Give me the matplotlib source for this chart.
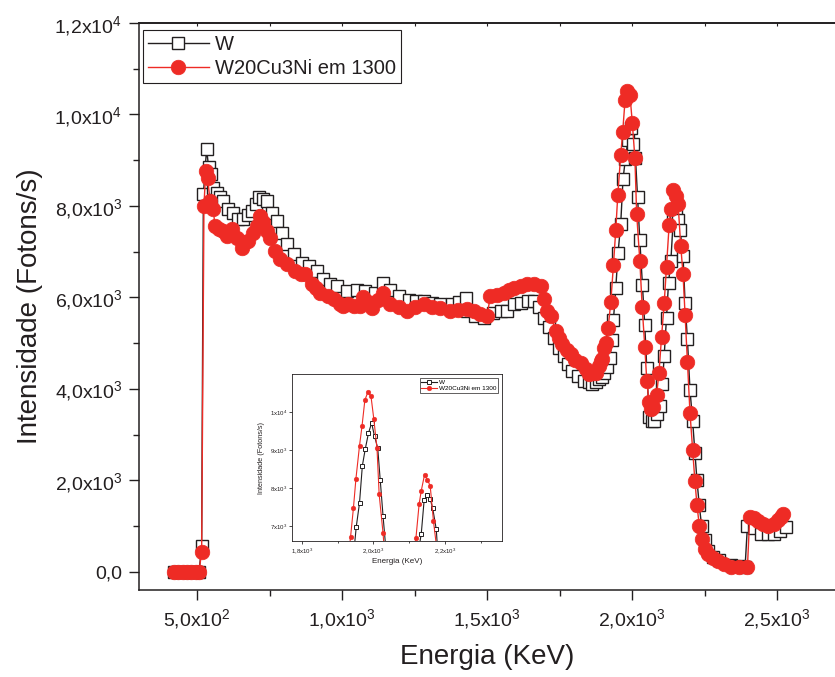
import matplotlib
matplotlib.use('Agg')
import matplotlib.pyplot as plt
from matplotlib.ticker import MultipleLocator

plt.rcParams['font.family'] = ['Liberation Sans', 'DejaVu Sans']
plt.rcParams['mathtext.fontset'] = 'custom'
plt.rcParams['mathtext.rm'] = 'Liberation Sans'
plt.rcParams['mathtext.it'] = 'Liberation Sans:italic'
plt.rcParams['mathtext.bf'] = 'Liberation Sans:bold'

# ---------------- data ----------------
w_label = 'W'
ni_label = 'W20Cu3Ni em 1300'

w_energy = [420, 435, 450, 465, 480, 495, 507, 516, 522, 533, 540, 548, 556, 568, 580,
            591, 608, 625, 643, 660, 675, 689, 703, 715, 728, 741, 758, 775, 793, 810,
            833, 862, 885, 914, 936, 960, 983, 1017, 1050, 1080, 1115, 1143, 1165, 1195,
            1230, 1255, 1282, 1310, 1339, 1380, 1405, 1426, 1432, 1460, 1489, 1520, 1547,
            1570, 1593, 1616, 1640, 1662, 1680, 1696, 1715, 1731, 1748, 1765, 1780, 1794,
            1815, 1834, 1850, 1863, 1875, 1885, 1895, 1905, 1915, 1924, 1930, 1936, 1944,
            1952, 1961, 1969, 1977, 1986, 1995, 2003, 2012, 2019, 2027, 2036, 2044, 2051,
            2059, 2068, 2076, 2087, 2097, 2105, 2111, 2119, 2126, 2134, 2142, 2151, 2159,
            2166, 2176, 2183, 2191, 2200, 2209, 2217, 2224, 2232, 2240, 2250, 2261, 2280,
            2300, 2340, 2370, 2390, 2398, 2420, 2445, 2470, 2490, 2510, 2531]
w_counts = [0, 0, 0, 0, 0, 0, 0, 560, 8255, 9250, 8850, 8700, 8400, 8291, 8200,
            8109, 7927, 7854, 7708, 7708, 7800, 7891, 8050, 8197, 8150, 8109, 7854, 7672, 7417, 7162,
            6944, 6761, 6689, 6579, 6397, 6300, 6251, 6142, 6150, 6142, 6105, 6324, 6150, 6033,
            5950, 5930, 5923, 5880, 5851, 5850, 5900, 5996, 5700, 5600, 5559, 5650, 5705,
            5705, 5851, 5887, 5920, 5923, 5800, 5559, 5350, 5122, 4900, 4721, 4550, 4394,
            4280, 4175, 4150, 4103, 4150, 4219, 4260, 4350, 4466, 4684, 5065, 5508, 6201,
            6980, 7600, 8583, 9016, 9437, 9710, 9358, 9053, 8200, 7250, 6267, 5392, 4452,
            3373, 3300, 3300, 3450, 3628, 4103, 4721, 5559, 6324, 6797, 7675, 7805, 7700,
            7463, 6903, 5887, 5087, 3972, 3300, 2600, 2000, 1450, 1000, 700, 450, 320,
            250, 140, 120, 110, 1000, 950, 824, 830, 824, 880, 968]

ni_energy = [420, 435, 450, 465, 480, 495, 507, 516, 524, 530, 537, 545, 556, 562, 575,
             591, 605, 620, 637, 654, 665, 677, 692, 706, 718, 728, 740, 752, 769, 787,
             810, 838, 860, 873, 896, 910, 925, 950, 971, 994, 1005, 1022, 1040, 1063, 1074,
             1090, 1103, 1125, 1143, 1167, 1195, 1224, 1250, 1282, 1310, 1339, 1374, 1400,
             1431, 1455, 1477, 1500, 1512, 1535, 1558, 1575, 1592, 1616, 1639, 1662, 1685,
             1696, 1708, 1719, 1737, 1748, 1760, 1775, 1788, 1805, 1823, 1840, 1852, 1865,
             1875, 1885, 1892, 1898, 1903, 1910, 1918, 1927, 1936, 1944, 1951, 1961, 1968,
             1976, 1984, 1993, 2001, 2010, 2016, 2027, 2035, 2044, 2051, 2059, 2066, 2074,
             2085, 2093, 2102, 2111, 2119, 2128, 2134, 2143, 2151, 2159, 2168, 2176, 2183,
             2191, 2200, 2209, 2217, 2224, 2232, 2240, 2250, 2261, 2278, 2295, 2318, 2341,
             2370, 2398, 2406, 2420, 2433, 2450, 2468, 2491, 2505, 2514, 2520]
ni_counts = [0, 0, 0, 0, 0, 0, 0, 430, 8000, 8760, 8600, 8100, 7930, 7560, 7500,
             7450, 7350, 7490, 7300, 7090, 7200, 7235, 7400, 7560, 7780, 7650, 7450, 7300, 7020, 6830,
             6720, 6580, 6520, 6500, 6290, 6200, 6100, 6020, 5960, 5850, 5814, 5850, 5814, 5814, 6000,
             5900, 5770, 5950, 6100, 5850, 5780, 5705, 5780, 5850, 5800, 5777, 5705, 5720,
             5742, 5700, 5632, 5600, 6033, 6050, 6105, 6150, 6215, 6251, 6288, 6300, 6251,
             5960, 5700, 5600, 5268, 5122, 4977, 4850, 4758, 4620, 4575, 4431, 4321, 4340,
             4356, 4500, 4612, 4649, 4903, 5000, 5340, 5908, 6710, 7469, 8240, 9108, 9624,
             10310, 10514, 10426, 9821, 9042, 7832, 6798, 5799, 4925, 4175, 3701, 3550, 3592,
             3869, 4356, 5143, 5873, 6667, 7578, 7927, 8343, 8219, 8050, 7126, 6507, 5617,
             4590, 3469, 2660, 1974, 1464, 1005, 715, 500, 387, 300, 240, 160, 94,
             94, 94, 1200, 1180, 1115, 1050, 1005, 1042, 1120, 1187, 1261]

x_ticks = [500, 1000, 1500, 2000, 2500]
x_tick_labels = ['5,0x10$^{2}$', '1,0x10$^{3}$', '1,5x10$^{3}$', '2,0x10$^{3}$', '2,5x10$^{3}$']
y_ticks = [0, 2000, 4000, 6000, 8000, 10000, 12000]
y_tick_labels = ['0,0', '2,0x10$^{3}$', '4,0x10$^{3}$', '6,0x10$^{3}$', '8,0x10$^{3}$',
                 '1,0x10$^{4}$', '1,2x10$^{4}$']

inset_x_ticks = [1800, 2000, 2200]
inset_x_tick_labels = ['1,8x10$^{3}$', '2,0x10$^{3}$', '2,2x10$^{3}$']
inset_y_ticks = [7000, 8000, 9000, 10000]
inset_y_tick_labels = ['7x10$^{3}$', '8x10$^{3}$', '9x10$^{3}$', '1x10$^{4}$']

x_label = 'Energia (KeV)'
y_label = 'Intensidade (Fotons/s)'

# ---------------- style ----------------
RED = '#EE2B25'
BLK = '#231F20'
TXT = '#231F20'

W, H = 835, 677
fig = plt.figure(figsize=(W / 100, H / 100), dpi=100)
ax = fig.add_axes([139 / W, 1 - 590 / H, 1 - 139 / W, (590 - 23) / H])

ax.plot(w_energy, w_counts, color=BLK, lw=1.0, marker='s', ms=8.5, mfc='white',
        mec=BLK, mew=1.0, label=w_label, zorder=2)
ax.plot(ni_energy, ni_counts, color=RED, lw=1.0, marker='o', ms=10.5, mfc=RED,
        mec=RED, mew=0.5, label=ni_label, zorder=3)

ax.set_xlim(300, 2700)
ax.set_ylim(-400, 12000)
ax.set_xticks(x_ticks, x_tick_labels)
ax.set_yticks(y_ticks, y_tick_labels)
ax.xaxis.set_minor_locator(MultipleLocator(250))
ax.yaxis.set_minor_locator(MultipleLocator(1000))
ax.tick_params(which='major', direction='out', length=7, width=1.0, color=BLK,
               labelsize=14, labelcolor=TXT, pad=5)
ax.tick_params(which='minor', direction='out', length=4.5, width=1.0, color=BLK)
for s in ['left', 'bottom', 'top']:
    ax.spines[s].set_linewidth(1.1)
    ax.spines[s].set_color(BLK)
ax.spines['right'].set_visible(False)

sec = ax.secondary_xaxis('top')
sec.set_xticks(x_ticks)
sec.xaxis.set_minor_locator(MultipleLocator(250))
sec.tick_params(which='both', direction='in', length=2.5, width=0.8, color=BLK,
                labeltop=False)
sec.spines['top'].set_linewidth(1.1)

ax.set_xlabel(x_label, fontsize=20, color=TXT, labelpad=10)
ax.set_ylabel(y_label, fontsize=20, color=TXT, labelpad=8)

leg = ax.legend(loc='upper left', bbox_to_anchor=(0.006, 0.988), borderaxespad=0,
                fontsize=14.5, frameon=True, fancybox=False, framealpha=1,
                edgecolor=BLK, handlelength=3.0, handletextpad=0.3,
                labelspacing=0.25, borderpad=0.25)
leg.get_frame().set_linewidth(0.8)
for t in leg.get_texts():
    t.set_color(TXT)

# ---------------- inset ----------------
axin = fig.add_axes([292 / W, 1 - 541 / H, 210 / W, 167 / H])
axin.plot(w_energy, w_counts, color=BLK, lw=0.8, marker='s', ms=3.0, mfc='white',
          mec=BLK, mew=0.7, label=w_label, zorder=2)
axin.plot(ni_energy, ni_counts, color=RED, lw=0.8, marker='o', ms=3.4, mfc=RED,
          mec=RED, mew=0.3, label=ni_label, zorder=3)
axin.set_xlim(1772, 2360)
axin.set_ylim(6600, 11000)
axin.set_xticks(inset_x_ticks, inset_x_tick_labels)
axin.set_yticks(inset_y_ticks, inset_y_tick_labels)
axin.xaxis.set_minor_locator(MultipleLocator(100))
axin.tick_params(which='major', direction='out', length=2, width=0.5, labelsize=4.4,
                 labelcolor=TXT, pad=1.5)
axin.tick_params(which='minor', direction='out', length=1.2, width=0.5)
for s in axin.spines.values():
    s.set_linewidth(0.6)
    s.set_color(BLK)
axin.set_xlabel(x_label, fontsize=5.8, color=TXT, labelpad=2)
axin.set_ylabel(y_label, fontsize=5.2, color=TXT, labelpad=3)
lin = axin.legend(loc='upper right', fontsize=4.6, frameon=True, fancybox=False,
                  framealpha=1, edgecolor=BLK, handlelength=2.5, handletextpad=0.3,
                  labelspacing=0.15, borderpad=0.25, borderaxespad=0.6)
lin.get_frame().set_linewidth(0.5)

fig.savefig('out.png', dpi=100)
